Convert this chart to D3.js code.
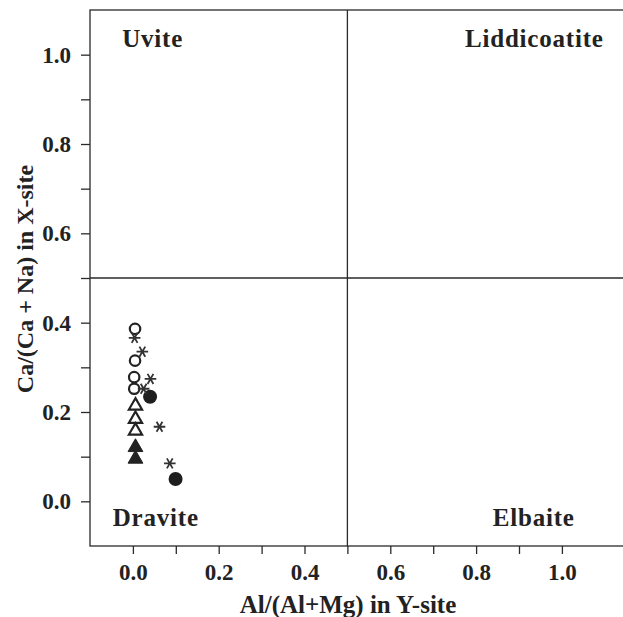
<!DOCTYPE html>
<html>
<head>
<meta charset="utf-8">
<script src="https://cdn.jsdelivr.net/npm/d3@7"></script>
<style>
  body { margin: 0; background: #fff; }
  svg { display: block; }
  text { font-family: "Liberation Serif", "Times New Roman", serif; font-weight: bold; fill: #222; }
  .tick line, .domain { stroke: #2a2a2a; stroke-width: 1.3; }
</style>
</head>
<body>
<div id="chart"></div>
<script>
// data: [Al/(Al+Mg), Ca/(Ca+Na)]
var openCircles = [[0.005, 0.386], [0.005, 0.315], [0.003, 0.278], [0.003, 0.252]];
var asterisks = [[0.004, 0.366], [0.022, 0.335], [0.041, 0.274], [0.025, 0.252], [0.062, 0.167], [0.086, 0.085]];
var filledCircles = [[0.040, 0.234], [0.0995, 0.050]];
var openTriangles = [[0.006, 0.214], [0.006, 0.184], [0.006, 0.158]];
var filledTriangles = [[0.006, 0.121], [0.006, 0.095]];

var tickValues = [0, 0.1, 0.2, 0.3, 0.4, 0.5, 0.6, 0.7, 0.8, 0.9, 1.0];
var labelledTicks = [0, 0.2, 0.4, 0.6, 0.8, 1.0];
var regions = [
  {name: 'Uvite', x: -0.025, y: 1.018, anchor: 'start'},
  {name: 'Liddicoatite', x: 1.0975, y: 1.018, anchor: 'end'},
  {name: 'Dravite', x: -0.047, y: -0.055, anchor: 'start'},
  {name: 'Elbaite', x: 1.03, y: -0.055, anchor: 'end'}
];

var width = 623, height = 617;

var svg = d3.select('#chart').append('svg')
  .attr('width', width)
  .attr('height', height);

var x = d3.scaleLinear().domain([-0.1, 1.2]).range([90, 647.7]);
var y = d3.scaleLinear().domain([-0.1, 1.1]).range([546, 10]);

var fmt = function(d) {
  return labelledTicks.some(function(t) { return Math.abs(t - d) < 1e-9; }) ? d3.format('.1f')(d) : '';
};

// frame
svg.append('rect')
  .attr('x', x(-0.1)).attr('y', y(1.1))
  .attr('width', x(1.2) - x(-0.1)).attr('height', y(-0.1) - y(1.1))
  .attr('fill', 'none').attr('stroke', '#2a2a2a').attr('stroke-width', 1.3);

// quadrant dividers
svg.append('line')
  .attr('x1', x(-0.1)).attr('x2', x(1.2)).attr('y1', y(0.5)).attr('y2', y(0.5))
  .attr('stroke', '#2a2a2a').attr('stroke-width', 1.3);
svg.append('line')
  .attr('x1', x(0.5)).attr('x2', x(0.5)).attr('y1', y(1.1)).attr('y2', y(-0.1))
  .attr('stroke', '#2a2a2a').attr('stroke-width', 1.3);

var xAxis = svg.append('g')
  .attr('transform', 'translate(0,' + y(-0.1) + ')')
  .call(d3.axisBottom(x).tickValues(tickValues).tickFormat(fmt).tickSize(8).tickPadding(10));
xAxis.select('.domain').remove();
xAxis.selectAll('text').style('font-size', '23px');

var yAxis = svg.append('g')
  .attr('transform', 'translate(' + x(-0.1) + ',0)')
  .call(d3.axisLeft(y).tickValues(tickValues).tickFormat(fmt).tickSize(9).tickPadding(10));
yAxis.select('.domain').remove();
yAxis.selectAll('text').style('font-size', '23px');

// axis titles
svg.append('text')
  .attr('x', 348).attr('y', 613)
  .attr('text-anchor', 'middle')
  .style('font-size', '25px')
  .text('Al/(Al+Mg) in Y-site');

svg.append('text')
  .attr('transform', 'translate(33,279) rotate(-90)')
  .attr('text-anchor', 'middle')
  .style('font-size', '24px')
  .text('Ca/(Ca + Na) in X-site');

// region labels
svg.selectAll('.region')
  .data(regions)
  .enter().append('text')
  .attr('class', 'region')
  .attr('x', function(d) { return x(d.x); })
  .attr('y', function(d) { return y(d.y); })
  .attr('text-anchor', function(d) { return d.anchor; })
  .style('font-size', '25px')
  .style('letter-spacing', '0.8px')
  .text(function(d) { return d.name; });

// symbols
var pts = svg.append('g');

pts.selectAll('.oc').data(openCircles).enter().append('circle')
  .attr('cx', function(d) { return x(d[0]); })
  .attr('cy', function(d) { return y(d[1]); })
  .attr('r', 5.2)
  .attr('fill', 'none').attr('stroke', '#222').attr('stroke-width', 2.2);

pts.selectAll('.ot').data(openTriangles).enter().append('path')
  .attr('d', d3.symbol().type(d3.symbolTriangle).size(75))
  .attr('transform', function(d) { return 'translate(' + x(d[0]) + ',' + y(d[1]) + ')'; })
  .attr('fill', 'none').attr('stroke', '#222').attr('stroke-width', 2.2);

pts.selectAll('.ft').data(filledTriangles).enter().append('path')
  .attr('d', d3.symbol().type(d3.symbolTriangle).size(95))
  .attr('transform', function(d) { return 'translate(' + x(d[0]) + ',' + y(d[1]) + ')'; })
  .attr('fill', '#222').attr('stroke', '#222').attr('stroke-width', 1);

pts.selectAll('.fc').data(filledCircles).enter().append('circle')
  .attr('cx', function(d) { return x(d[0]); })
  .attr('cy', function(d) { return y(d[1]); })
  .attr('r', 7)
  .attr('fill', '#1e1e1e');

pts.selectAll('.as').data(asterisks).enter().append('path')
  .attr('d', d3.symbol().type(d3.symbolAsterisk).size(95))
  .attr('transform', function(d) { return 'translate(' + x(d[0]) + ',' + y(d[1]) + ') rotate(90)'; })
  .attr('fill', 'none').attr('stroke', '#333').attr('stroke-width', 1.8);
</script>
</body>
</html>
